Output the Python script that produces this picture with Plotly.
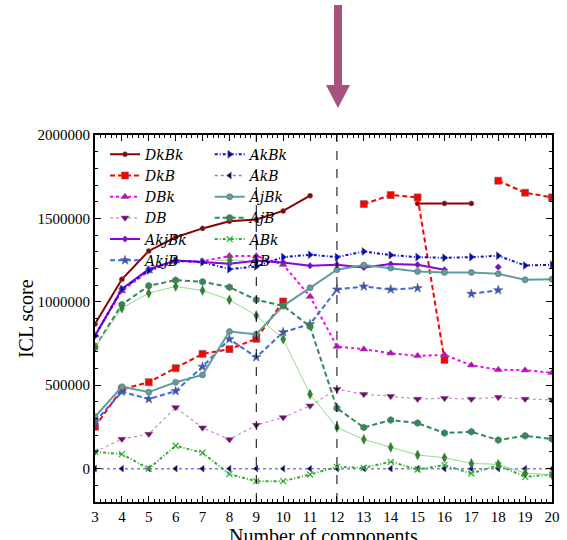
import plotly.graph_objects as go

ks = list(range(3, 21))

DkBk = [867000, 1135000, 1305000, 1387000, 1440000, 1483000, 1494000, 1545000, 1636000,
        None, None, None, 1590000, 1590000, 1590000, None, None, None]
DkB = [251000, 476000, 518000, 602000, 688000, 716000, 778000, 1002000, None,
       None, 1586000, 1640000, 1626000, 652000, None, 1726000, 1654000, 1626000]
DBk = [800000, 1065000, 1185000, 1243000, 1243000, 1275000, 1275000, 1223000, 1032000,
       732000, 716000, 692000, 676000, 682000, 620000, 593000, 590000, 575000]
DB = [101000, 177000, 207000, 367000, 245000, 175000, 261000, 307000, 377000,
      476000, 446000, 434000, 417000, 422000, 417000, 428000, 417000, 413000]
AkjBk = [796000, 1078000, 1196000, 1248000, 1238000, 1228000, 1246000, 1236000, 1216000,
         1222000, 1206000, 1226000, 1222000, 1192000, None, 1208000, None, None]
AkjB = [280000, 461000, 417000, 465000, 611000, 776000, 668000, 818000, 866000,
        1074000, 1092000, 1074000, 1082000, None, 1048000, 1070000, None, None]
AkBk = [796000, 1075000, 1188000, 1246000, 1238000, 1196000, 1212000, 1268000, 1282000,
        1268000, 1302000, 1280000, 1268000, 1264000, 1268000, 1276000, 1218000, 1222000]
AkB = [0] * 18
AjBk = [311000, 491000, 459000, 518000, 562000, 822000, 806000, 976000, 1084000,
        1192000, 1220000, 1202000, 1182000, 1176000, 1176000, 1168000, 1132000, 1136000]
AjB = [728000, 984000, 1096000, 1130000, 1120000, 1088000, 1012000, 976000, 852000,
       362000, 247000, 291000, 273000, 213000, 221000, 171000, 197000, 177000]
ABk = [101000, 87000, 0, 137000, 95000, -33000, -75000, -75000, -35000,
       11000, 5000, 41000, -5000, 21000, -29000, 21000, -49000, -35000]
AB = [728000, 962000, 1052000, 1092000, 1068000, 1012000, 918000, 776000, 446000,
      247000, 175000, 128000, 82000, 65000, 31000, 26000, -27000, -37000]

xticks = list(range(3, 21))
yticks = [0, 500000, 1000000, 1500000, 2000000]
vlines = [9, 12]

DASH = "5px,3px"
DASHDOT = "3px,2px,1px,2px"

# name, data, line color, marker color, dash, width, symbol, size, legend
specs = [
    ("DkBk", DkBk, "#8b0000", "#8b0000", "solid", 2, "circle", 5, "legend"),
    ("DkB", DkB, "#ff0000", "#ff0000", DASH, 2, "square", 7, "legend"),
    ("DBk", DBk, "#ff00ff", "#cc00cc", "dot", 2, "triangle-up", 7, "legend"),
    ("DB", DB, "#cc88d0", "#800080", "dot", 1.2, "triangle-down", 7, "legend"),
    ("AkjBk", AkjBk, "#8a00e0", "#8a00e0", "solid", 2, "diamond", 5, "legend"),
    ("AkjB", AkjB, "#4169e1", "#3355cc", DASH, 2, "star", 7, "legend"),
    ("AkBk", AkBk, "#1010d8", "#0000cd", DASHDOT, 2, "triangle-right", 7, "legend2"),
    ("AkB", AkB, "#8080c8", "#000080", "dot", 1.5, "triangle-left", 6, "legend2"),
    ("AjBk", AjBk, "#5f9ea0", "#5f9ea0", "solid", 2, "circle", 6, "legend2"),
    ("AjB", AjB, "#2e8b57", "#2e8b57", DASH, 2, "hexagon", 7, "legend2"),
    ("ABk", ABk, "#33aa33", "#33aa33", DASHDOT, 2, "x-thin-open", 6, "legend2"),
    ("AB", AB, "#90dd90", "#228b22", "solid", 1, "diamond-tall", 7, "legend2"),
]

fig = go.Figure()
for name, data, lc, mc, dash, w, sym, sz, leg in specs:
    is_open = "open" in sym
    fig.add_trace(go.Scatter(
        x=ks, y=data, name=name, mode="lines+markers",
        line=dict(color=lc, dash=dash, width=w),
        marker=dict(color=mc, symbol=sym, size=sz,
                    line=dict(color=mc if is_open else "#666666", width=1.2 if is_open else 0.6)),
        connectgaps=False, legend=leg,
    ))

for v in vlines:
    fig.add_shape(type="line", x0=v, x1=v, y0=0, y1=1, xref="x", yref="paper",
                  line=dict(color="black", dash="dash", width=1))

# arrow above the plot (paper coords)
ax = 0.5317
fig.add_shape(type="rect", xref="paper", yref="paper",
              x0=ax - 4 / 457, x1=ax + 4 / 457, y0=1 + (135 - 86) / 367, y1=1 + (135 - 5) / 367,
              fillcolor="#a8507e", line=dict(width=0))
fig.add_shape(type="path", xref="paper", yref="paper",
              path=f"M {ax - 12/457} {1 + (135-85)/367} L {ax + 12/457} {1 + (135-85)/367} L {ax} {1 + (135-108)/367} Z",
              fillcolor="#a8507e", line=dict(width=0))

serif = "Liberation Serif"
legfont = dict(family="DejaVu Serif", size=14, style="italic")
fig.update_layout(
    width=567, height=540,
    margin=dict(l=95, r=15, t=135, b=38),
    paper_bgcolor="white", plot_bgcolor="white",
    font=dict(family=serif, size=15, color="black"),
    legend=dict(x=0.022, y=0.99, xanchor="left", yanchor="top", bgcolor="rgba(0,0,0,0)",
                font=legfont, tracegroupgap=0, itemwidth=30),
    legend2=dict(x=0.251, y=0.99, xanchor="left", yanchor="top", bgcolor="rgba(0,0,0,0)",
                 font=legfont, tracegroupgap=0, itemwidth=30),
    annotations=[
        dict(text="Number of components", xref="paper", yref="paper", x=0.5, y=-0.094,
             xanchor="center", yanchor="middle", showarrow=False,
             font=dict(family=serif, size=20, color="black")),
        dict(text="ICL score", xref="paper", yref="paper", x=-0.152, y=0.5,
             xanchor="center", yanchor="middle", showarrow=False, textangle=-90,
             font=dict(family=serif, size=20, color="black")),
    ],
)
fig.update_xaxes(
    range=[3, 20], tickvals=xticks, ticktext=[str(t) for t in xticks],
    ticks="inside", ticklen=6, tickcolor="black", showline=True, linecolor="black", linewidth=2,
    mirror="allticks", showgrid=False, zeroline=False,
    minor=dict(dtick=0.2, ticks="inside", ticklen=3, tickcolor="black", showgrid=False),
    automargin=False, tickfont=dict(family=serif, size=15),
)
fig.update_yaxes(
    range=[-200000, 2000000], tickvals=yticks, ticktext=[str(t) for t in yticks],
    ticks="inside", ticklen=6, tickcolor="black", showline=True, linecolor="black", linewidth=2,
    mirror="allticks", showgrid=False, zeroline=False,
    minor=dict(dtick=100000, tick0=0, ticks="inside", ticklen=3, tickcolor="black", showgrid=False),
    automargin=False, tickfont=dict(family=serif, size=15),
)

fig.write_html("out.html", config={"displayModeBar": False},
               post_script="document.body.style.margin='0';")
